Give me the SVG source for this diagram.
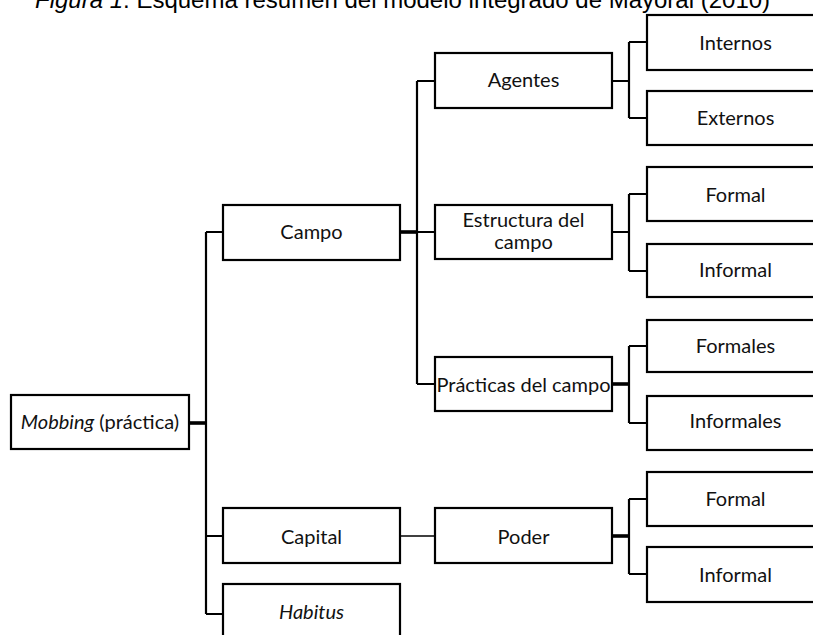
<svg xmlns="http://www.w3.org/2000/svg" width="813" height="635" viewBox="0 0 813 635">
<style>
.bg{fill:#ffffff}
.box{fill:#ffffff;stroke:#000000;stroke-width:2.2}
.t{font-family:Lato,"Open Sans","Liberation Sans",sans-serif;font-size:20px;fill:#111111;text-anchor:middle}
.title{font-family:"Liberation Sans",Arial,sans-serif;font-size:24px;fill:#000000}
.c{fill:none;stroke:#000000;stroke-width:2.2}
.ck{fill:none;stroke:#000000;stroke-width:3.6}
.cn{fill:none;stroke:#000000;stroke-width:1.6}
</style>
<rect class="bg" x="0" y="0" width="813" height="635"/>
<text class="title" x="35" y="7.5"><tspan font-style="italic">Figura 1</tspan>. Esquema resumen del modelo integrado de Mayoral (2010)</text>
<g id="connectors">
  <path class="c" d="M206,232 V614 M206,232 H223 M206,536 H223 M206,614 H223"/>
  <path class="ck" d="M189,423 H206"/>
  <path class="ck" d="M400,232 H417"/>
  <path class="c" d="M417,81 V384 M417,81 H435 M417,232 H435 M417,384 H435"/>
  <path class="c" d="M612,81 H629 M629,42 V118 M629,42 H647 M629,118 H647"/>
  <path class="c" d="M612,232 H629 M629,194 V271 M629,194 H647 M629,271 H647"/>
  <path class="ck" d="M612,384 H629"/>
  <path class="c" d="M629,346 V423 M629,346 H647 M629,423 H647"/>
  <path class="cn" d="M400,536 H435"/>
  <path class="ck" d="M612,536 H629"/>
  <path class="c" d="M629,499 V574 M629,499 H647 M629,574 H647"/>
</g>
<g id="mobbing"><rect class="box" x="11" y="395" width="178" height="54"/><text class="t" x="100" y="429"><tspan font-style="italic">Mobbing</tspan> (práctica)</text></g>
<g id="campo"><rect class="box" x="223" y="205" width="177" height="55"/><text class="t" x="311.5" y="239">Campo</text></g>
<g id="capital"><rect class="box" x="223" y="508" width="177" height="55"/><text class="t" x="311.5" y="543.5">Capital</text></g>
<g id="habitus"><rect class="box" x="223" y="584" width="177" height="60"/><text class="t" x="311.5" y="619" font-style="italic">Habitus</text></g>
<g id="agentes"><rect class="box" x="435" y="53" width="177" height="55"/><text class="t" x="523.5" y="87">Agentes</text></g>
<g id="estructura"><rect class="box" x="435" y="205" width="177" height="54"/><text class="t" x="523.5" y="227">Estructura del</text><text class="t" x="523.5" y="249">campo</text></g>
<g id="practicas"><rect class="box" x="435" y="357" width="177" height="54"/><text class="t" x="523.5" y="392">Prácticas del campo</text></g>
<g id="poder"><rect class="box" x="435" y="508" width="177" height="55"/><text class="t" x="523.5" y="543.5">Poder</text></g>
<g id="internos"><rect class="box" x="647" y="15" width="177" height="55"/><text class="t" x="735.5" y="50">Internos</text></g>
<g id="externos"><rect class="box" x="647" y="91" width="177" height="54"/><text class="t" x="735.5" y="125">Externos</text></g>
<g id="formal1"><rect class="box" x="647" y="167" width="177" height="54"/><text class="t" x="735.5" y="202">Formal</text></g>
<g id="informal1"><rect class="box" x="647" y="244" width="177" height="53"/><text class="t" x="735.5" y="277">Informal</text></g>
<g id="formales"><rect class="box" x="647" y="320" width="177" height="52"/><text class="t" x="735.5" y="353">Formales</text></g>
<g id="informales"><rect class="box" x="647" y="396" width="177" height="54"/><text class="t" x="735.5" y="428">Informales</text></g>
<g id="formal2"><rect class="box" x="647" y="472" width="177" height="54"/><text class="t" x="735.5" y="506">Formal</text></g>
<g id="informal2"><rect class="box" x="647" y="547" width="177" height="55"/><text class="t" x="735.5" y="582">Informal</text></g>
</svg>
